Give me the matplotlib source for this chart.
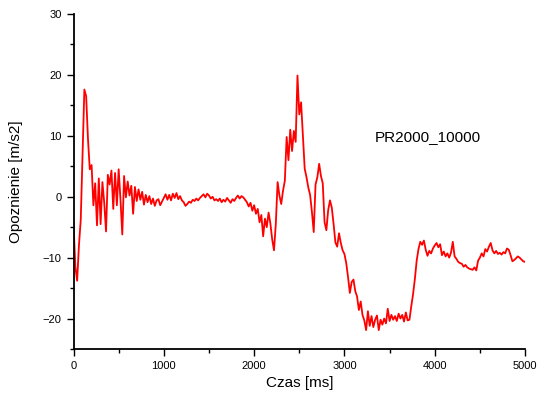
import matplotlib
matplotlib.use('Agg')
import matplotlib.pyplot as plt
import numpy as np
from matplotlib.ticker import MultipleLocator

plt.rcParams['font.family'] = ['Liberation Sans', 'DejaVu Sans']

# sample times [ms], one reading every 20 ms
czas = np.arange(0, 5001, 20)

# deceleration readings [m/s2], one row = 200 ms
opoznienie = [
    -4.4, -11.5, -13.8, -8.0, -3.8, 7.0, 17.6, 16.5, 9.5, 4.5,
    5.2, -1.4, 2.2, -4.7, 3.0, -4.5, 2.4, -1.0, -5.7, 3.6,
    2.0, 4.3, -2.0, 3.9, -1.4, 4.5, -0.5, -6.2, 3.4, -0.1,
    2.5, 0.2, 1.8, -2.8, 1.6, -0.7, 1.2, -0.5, 0.8, -1.3,
    0.3, -0.9, 0.1, -1.2, -0.3, -1.5, -0.6, -0.4, -1.4, -0.8,
    -0.2, 0.4, -0.5, 0.3, -0.6, 0.5, -0.2, 0.6, -0.4, 0.1,
    -0.6, -0.9, -1.5, -1.2, -0.8, -1.0, -0.5, -0.7, -0.3, -0.6,
    -0.2, 0.1, 0.4, -0.1, 0.5, 0.2, -0.3, 0.0, -0.6, -0.4,
    -0.7, -0.3, -0.9, -0.5, -0.8, -0.2, -0.6, -1.0, -0.4, -0.7,
    -0.2, 0.2, -0.3, 0.1, -0.1, -0.5, -0.9, -1.6, -1.0, -2.3,
    -1.4, -2.8, -2.0, -4.2, -3.0, -6.5, -3.6, -5.0, -2.6, -4.4,
    -7.0, -8.8, -4.5, 2.4, 0.2, -1.2, 1.0, 2.6, 9.8, 6.0,
    11.0, 7.5, 10.8, 9.0, 19.9, 13.5, 15.5, 10.0, 4.6, 3.2,
    1.5, 0.3, -2.5, -5.8, 2.0, 3.2, 5.4, 3.4, 2.2, -4.2,
    -5.5, -2.2, -0.6, -1.8, -4.5, -7.5, -8.2, -6.0, -7.6, -8.8,
    -9.4, -10.9, -13.2, -15.8, -14.0, -13.6, -15.5, -16.4, -18.6, -17.2,
    -19.4, -20.3, -21.9, -18.8, -21.2, -19.6, -21.4, -20.2, -19.5, -21.9,
    -20.2, -21.0, -20.0, -20.8, -18.4, -20.4, -19.4, -20.2, -19.6, -20.4,
    -19.2, -20.0, -19.4, -20.5, -19.0, -20.3, -20.2, -18.0, -16.0, -13.5,
    -10.5, -8.6, -7.4, -7.9, -7.2, -8.7, -9.7, -8.9, -9.3, -8.5,
    -8.0, -7.6, -8.3, -7.8, -9.6, -9.0, -9.8, -9.3, -10.0, -9.2,
    -7.4, -9.8, -10.2, -10.7, -10.9, -11.0, -11.5, -11.2, -11.6, -11.8,
    -11.9, -12.0, -11.6, -12.1, -10.5, -10.0, -9.3, -9.8, -8.6, -9.0,
    -8.2, -7.6, -8.8, -9.3, -8.9, -9.4, -9.2, -9.5, -9.1, -9.3,
    -8.5, -8.7, -9.6, -10.6, -10.4, -10.1, -9.8, -10.0, -10.3, -10.6,
    -10.7,
]

opis = 'PR2000_10000'

fig = plt.figure(figsize=(5.39, 4.01), dpi=100)
ax = fig.add_axes([0.1364, 0.1297, 0.8377, 0.8354])

ax.plot(czas, opoznienie, color='red', linewidth=1.3)

ax.set_xlim(0, 5000)
ax.set_ylim(-25, 30)
ax.xaxis.set_major_locator(MultipleLocator(1000))
ax.xaxis.set_minor_locator(MultipleLocator(500))
ax.yaxis.set_major_locator(MultipleLocator(10))
ax.yaxis.set_minor_locator(MultipleLocator(5))

ax.spines['top'].set_visible(False)
ax.spines['right'].set_visible(False)
ax.spines['left'].set_linewidth(1.3)
ax.spines['bottom'].set_linewidth(1.3)
ax.tick_params(which='major', direction='out', length=5, width=1.0, labelsize=8)
ax.tick_params(which='minor', direction='out', length=3, width=1.0)

ax.set_xlabel('Czas [ms]', fontsize=11, labelpad=4)
ax.set_ylabel('Opoznienie [m/s2]', fontsize=11, labelpad=14)

ax.text(3340, 9.8, opis, fontsize=11, va='center', ha='left')

fig.savefig('out.png', dpi=100)
